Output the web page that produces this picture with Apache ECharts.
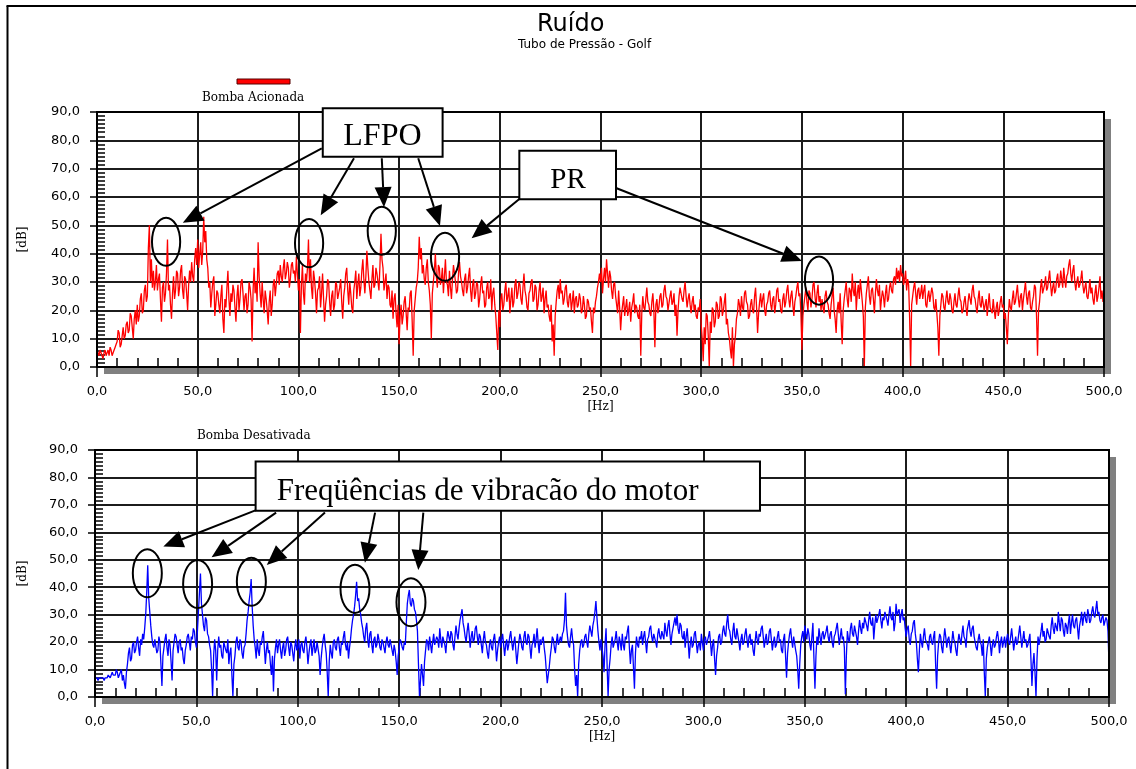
<!DOCTYPE html>
<html>
<head>
<meta charset="utf-8">
<script src="https://cdn.jsdelivr.net/npm/echarts@6/dist/echarts.min.js"></script>
<style>
  html, body { margin: 0; padding: 0; background: #fff; }
  #chart { width: 1136px; height: 769px; }
</style>
</head>
<body>
<div id="chart"></div>
<script>
// Spectrum resolution of both measurements (Hz between samples)
const stepHz = 0.5;

// Noise level with the pump running, 0..500 Hz in 0.5 Hz steps [dB]
const pumpOnDb = [
  6,5,4,6,5,4,3,5,6,4,5,6,4,7,6,4,5,6,7,8,
  9,13,12,7,8,11,14,10,11,15,16,12,13,19,18,14,10,17,20,15,
  22,16,18,24,26,19,20,27,29,23,25,42,50,30,38,28,34,27,30,36,
  27,31,33,24,16,28,30,23,26,33,45,27,29,22,17,26,32,24,27,34,
  33,25,28,34,36,27,24,32,31,26,20,29,34,30,37,32,30,38,42,36,
  45,35,40,44,36,41,53,44,48,38,35,28,30,21,26,30,32,18,22,27,
  26,22,19,25,29,17,12,24,21,28,34,24,18,26,23,29,27,21,16,25,
  29,20,24,30,31,26,20,25,26,19,22,30,28,24,9,27,35,26,30,23,
  44,32,26,21,30,24,19,27,24,20,15,23,27,18,22,29,31,25,29,33,
  34,29,36,32,30,35,38,31,33,37,35,28,31,36,37,33,34,30,39,33,
  27,31,12,29,36,26,22,33,30,35,45,30,38,28,24,34,31,26,19,27,
  28,32,21,26,33,24,16,22,25,31,30,23,18,25,27,20,22,30,29,24,
  24,28,31,23,17,25,28,33,35,27,22,30,26,21,19,27,30,34,24,29,
  33,25,28,34,38,31,26,32,41,35,30,27,24,31,36,28,29,35,33,30,
  27,36,47,38,35,27,30,33,24,29,28,22,21,27,17,24,26,19,14,22,
  8,18,22,15,18,23,25,19,13,21,20,26,27,16,4,20,24,28,30,35,
  46,38,42,33,36,31,29,35,38,30,27,22,10,26,30,34,40,32,28,36,
  35,29,31,35,26,32,38,30,29,25,34,28,24,31,36,33,30,26,27,33,
  37,32,30,27,25,31,33,26,28,32,35,27,23,29,31,24,26,30,29,21,
  24,29,32,26,27,21,22,28,30,24,25,31,20,26,28,22,18,12,6,20,
  14,24,26,20,22,27,30,23,25,28,19,24,28,21,23,29,31,24,26,30,
  29,24,22,28,33,27,25,21,20,26,27,30,31,23,24,29,28,20,22,27,
  30,23,25,28,19,24,27,21,22,18,16,22,9,15,4,18,23,27,29,24,
  31,26,27,22,24,28,29,23,21,25,26,20,23,27,19,24,25,21,22,26,
  24,19,20,25,22,17,18,24,23,20,21,16,12,21,19,23,25,28,30,33,
  30,35,26,31,35,30,38,33,28,34,32,27,24,29,30,25,22,19,27,21,
  13,19,22,25,18,21,24,18,20,23,16,21,23,26,19,22,21,18,17,22,
  4,19,25,21,20,24,28,23,22,19,18,23,26,20,7,22,24,19,21,25,
  26,21,22,27,29,25,24,20,20,25,27,22,23,26,18,22,11,20,25,28,
  28,24,23,27,30,25,21,24,26,22,19,23,25,20,22,18,17,21,20,24,
  15,10,2,14,8,19,18,11,0,16,12,21,20,14,16,23,22,17,18,25,
  24,18,20,23,26,15,17,12,10,6,3,14,0,8,11,17,19,24,22,18,
  25,21,20,26,27,23,22,17,18,22,24,20,19,25,28,21,12,19,23,26,
  21,24,26,20,18,22,23,26,27,22,20,24,25,19,22,27,28,23,24,20,
  19,24,26,21,23,27,29,24,21,25,27,22,18,23,25,28,30,25,26,19,
  6,18,22,25,28,23,20,27,26,21,24,29,30,25,21,26,29,23,25,20,
  24,21,19,25,27,23,22,19,17,22,25,28,20,17,12,20,23,19,26,16,
  8,20,24,27,30,24,21,28,27,23,33,27,25,30,20,26,29,24,31,27,
  23,18,0,21,26,29,32,25,22,27,28,24,19,26,31,27,25,29,20,24,
  27,25,21,26,29,23,24,28,30,27,26,31,32,29,35,31,34,30,36,32,
  33,29,31,34,27,31,29,17,0,22,25,28,30,26,22,27,28,24,26,29,
  24,27,29,22,21,25,27,23,23,28,26,21,20,24,19,14,4,18,22,26,
  25,21,20,24,27,23,22,26,24,20,19,23,26,22,21,25,28,24,23,19,
  20,23,25,21,18,23,26,24,22,27,29,25,24,21,19,24,27,22,21,25,
  25,20,22,24,18,22,26,21,21,19,24,20,17,21,23,18,20,23,25,21,
  22,17,19,14,8,18,24,21,20,24,27,22,23,26,29,24,21,25,26,20,
  24,27,30,25,22,26,27,21,20,23,25,29,28,18,4,20,23,28,31,26,
  26,29,32,27,28,31,34,29,25,28,30,26,27,31,33,28,29,34,31,28,
  35,31,28,32,33,36,38,33,30,34,36,30,27,30,32,28,29,31,34,29,
  26,28,30,25,24,27,31,26,28,24,22,26,29,23,25,28,32,24,27,23,
  28
];

// Noise level with the pump switched off, 0..500 Hz in 0.5 Hz steps [dB]
const pumpOffDb = [
  7,7,7,6,7,7,7,7,7,6,7,7,7,8,8,7,7,9,8,8,
  8,10,9,7,7,9,10,6,8,5,3,9,12,16,18,13,14,19,20,16,
  17,20,22,18,15,21,19,23,21,25,30,38,48,36,31,26,22,19,18,21,
  21,16,17,22,20,12,4,15,18,21,23,18,15,21,19,13,6,17,20,23,
  22,19,16,20,21,17,18,14,12,17,19,22,23,20,17,22,21,25,24,20,
  18,24,31,38,45,34,30,26,24,29,28,23,22,19,17,10,0,15,21,17,
  6,17,22,18,19,15,14,20,20,17,16,21,12,16,18,8,0,12,15,20,
  22,18,17,21,20,16,14,18,19,23,28,31,35,38,43,33,26,21,18,14,
  21,17,15,20,19,22,24,18,12,17,20,16,17,12,8,15,2,14,18,21,
  16,19,21,17,14,18,20,15,17,21,22,18,15,20,19,16,13,18,21,17,
  18,21,14,19,20,17,16,20,22,18,12,16,19,21,15,18,21,16,17,20,
  20,15,8,14,18,21,23,19,16,9,0,13,19,16,14,20,21,18,17,21,
  22,18,15,20,19,22,24,19,17,20,14,18,21,25,28,30,33,37,42,35,
  36,32,30,27,25,22,20,25,27,21,18,23,24,19,16,21,22,18,19,23,
  21,18,17,21,20,18,16,20,22,19,18,21,19,17,15,19,17,13,8,15,
  18,21,20,18,17,20,19,27,34,37,39,34,33,36,35,32,31,28,24,12,
  0,6,12,8,4,13,17,21,20,17,22,19,16,20,23,19,19,22,21,18,
  25,21,18,22,22,19,16,21,24,22,20,24,23,19,17,22,26,23,21,25,
  28,30,32,27,25,22,20,24,27,23,18,22,24,20,21,25,26,22,19,23,
  22,19,16,21,24,20,19,16,14,19,21,18,17,21,23,19,13,17,20,22,
  18,21,23,19,15,19,21,17,19,22,24,20,17,20,22,17,12,16,20,23,
  21,18,17,22,24,20,19,23,22,18,14,19,20,23,18,21,25,20,16,21,
  19,21,22,18,15,10,5,8,11,15,18,22,21,18,16,20,23,19,19,22,
  20,23,24,28,38,26,22,19,18,22,25,21,19,10,4,8,0,12,17,20,
  21,18,19,22,23,20,18,23,26,24,22,26,28,31,35,29,24,20,17,21,
  21,15,9,19,25,12,0,10,14,19,22,18,18,21,24,20,17,22,20,17,
  23,19,17,22,21,24,26,18,12,17,19,11,3,16,22,19,18,22,21,24,
  19,22,24,20,16,21,22,25,26,22,20,23,23,20,18,23,25,22,21,24,
  24,21,27,24,22,26,28,23,19,23,25,27,29,26,30,25,23,27,26,22,
  21,24,18,22,25,20,14,19,22,18,19,23,24,20,16,19,20,17,23,20,
  17,21,22,19,19,22,24,20,15,19,21,14,8,15,18,22,23,19,20,24,
  26,23,22,27,30,25,24,21,19,24,27,22,21,25,25,20,17,21,23,19,
  20,23,25,21,18,22,23,19,21,17,15,20,24,21,19,23,22,25,26,22,
  18,21,23,19,20,24,25,21,17,20,22,18,19,22,24,20,21,17,16,21,
  23,15,7,16,20,23,25,21,18,22,22,17,15,10,3,12,19,22,24,20,
  26,23,21,25,23,19,17,22,27,14,3,15,22,19,25,22,19,23,24,21,
  21,24,26,22,20,23,24,20,18,22,23,25,27,23,19,22,25,21,22,18,
  1,15,24,21,20,25,27,23,22,26,26,22,19,24,28,25,23,27,25,29,
  29,26,24,28,31,27,26,29,21,26,30,27,27,30,32,28,25,29,28,31,
  31,28,26,30,33,29,28,31,24,27,34,30,30,32,27,30,32,28,29,25,
  22,25,26,21,19,23,24,27,28,23,20,14,9,17,23,20,18,22,25,21,
  21,19,17,22,23,20,19,22,24,12,3,15,20,23,22,18,16,21,25,22,
  18,21,22,19,16,20,24,21,20,17,15,20,23,21,19,23,26,22,21,18,
  24,26,28,24,22,25,26,22,20,18,17,21,23,20,19,15,21,9,0,14,
  18,20,22,19,15,19,21,18,19,22,24,21,16,20,22,18,20,22,18,21,
  23,20,19,22,25,21,17,20,22,19,20,23,26,22,18,21,24,20,21,18,
  19,21,23,14,4,12,16,9,0,14,22,19,19,24,27,22,24,20,21,25,
  25,22,21,26,29,25,23,27,27,24,31,27,24,29,28,24,22,27,26,23,
  27,30,23,27,30,26,25,28,29,25,21,26,28,31,26,29,31,28,27,32,
  30,27,28,31,33,30,29,32,35,30,31,28,27,29,30,26,26,29,28,24,
  12
];

// Axis tick values
const dbTicks = [0, 10, 20, 30, 40, 50, 60, 70, 80, 90];
const hzTicks = [0, 50, 100, 150, 200, 250, 300, 350, 400, 450, 500];

// Callouts, in data units (Hz, dB)
const topCallouts = [
  { text: 'LFPO', box: [112.1, 91.3, 171.6, 74.2], textAt: [122.3, 81.2], align: 'left', size: 32, clipTo: 78.2 },
  { text: 'PR', box: [209.7, 76.3, 257.7, 59.2], textAt: [233.9, 65.9], align: 'center', size: 29 }
];
const topArrows = [
  [111.6, 77.2, 42.6, 50.9],
  [127.6, 73.7, 111.1, 53.6],
  [141.4, 73.7, 142.5, 56.4],
  [159.5, 73.7, 170.3, 49.8],
  [210.0, 59.5, 186.0, 45.4],
  [258.0, 63.1, 350.0, 37.4]
];
const topRings = [[34.3, 44.2], [105.3, 43.7], [141.4, 48.1], [172.8, 38.9], [358.5, 30.5]];
const topRingSize = [7.0, 8.5];

const bottomCallouts = [
  { text: 'Freqüências de vibracão do motor', box: [79.2, 85.8, 327.9, 67.9], textAt: [89.6, 74.9], align: 'left', size: 31, clipTo: 69.4 }
];
const bottomArrows = [
  [79.4, 68.1, 33.7, 54.8],
  [89.3, 67.2, 57.5, 50.9],
  [113.4, 67.2, 84.7, 48.1],
  [138.1, 67.2, 133.1, 48.9],
  [161.9, 67.2, 159.4, 46.3]
];
const bottomRings = [[25.8, 45.1], [50.6, 41.2], [77.1, 42.0], [128.2, 39.4], [155.8, 34.5]];
const bottomRingSize = [7.15, 8.75];

const fmtComma = v => v.toFixed(1).replace('.', ',');
const toPairs = arr => arr.map((v, i) => [i * stepHz, v]);

// Draws the plot frame, arrows, ellipses and text boxes of one panel through its axes
function notesRenderer(callouts, arrows, rings, ringSize) {
  return function (params, api) {
    const kids = [];
    const f0 = api.coord([hzTicks[0], dbTicks[dbTicks.length - 1]]);
    const f1 = api.coord([hzTicks[hzTicks.length - 1], dbTicks[0]]);
    kids.push({ type: 'rect', shape: { x: f0[0], y: f0[1], width: f1[0] - f0[0], height: f1[1] - f0[1] },
      style: { fill: 'none', stroke: '#000', lineWidth: 2 } });
    arrows.forEach(a => {
      const p0 = api.coord([a[0], a[1]]);
      const p1 = api.coord([a[2], a[3]]);
      const dx = p1[0] - p0[0], dy = p1[1] - p0[1];
      const len = Math.sqrt(dx * dx + dy * dy);
      const ux = dx / len, uy = dy / len;
      const head = 20, half = 8.5;
      const bx = p1[0] - ux * head, by = p1[1] - uy * head;
      kids.push({ type: 'line', shape: { x1: p0[0], y1: p0[1], x2: bx, y2: by },
        style: { stroke: '#000', lineWidth: 2 } });
      kids.push({ type: 'polygon', shape: { points: [
        [p1[0], p1[1]], [bx - uy * half, by + ux * half], [bx + uy * half, by - ux * half]] },
        style: { fill: '#000' } });
    });
    rings.forEach(r => {
      const c = api.coord(r);
      const s = api.size(ringSize);
      kids.push({ type: 'ellipse', shape: { cx: c[0], cy: c[1], rx: s[0], ry: s[1] },
        style: { fill: 'none', stroke: '#000', lineWidth: 2 } });
    });
    callouts.forEach(c => {
      const tl = api.coord([c.box[0], c.box[1]]);
      const br = api.coord([c.box[2], c.box[3]]);
      kids.push({ type: 'rect', shape: { x: tl[0], y: tl[1], width: br[0] - tl[0], height: br[1] - tl[1] },
        style: { fill: '#fff', stroke: '#000', lineWidth: 2 } });
      const t = api.coord(c.textAt);
      const label = { type: 'text', style: { text: c.text, x: t[0], y: t[1],
        fontFamily: '"Liberation Serif", "Times New Roman", serif', fontSize: c.size,
        fill: '#000', align: c.align, verticalAlign: 'middle' } };
      if (c.clipTo != null) {
        const cb = api.coord([c.box[0], c.clipTo]);
        label.clipPath = { type: 'rect', shape: { x: tl[0] + 1, y: tl[1] + 1, width: br[0] - tl[0] - 2, height: cb[1] - tl[1] } };
      }
      kids.push(label);
    });
    return { type: 'group', children: kids };
  };
}

const sansFont = '"DejaVu Sans", Verdana, sans-serif';
const serifFont = '"DejaVu Serif", serif';

function mainX(gridIndex, nameGap) {
  return {
    type: 'value', gridIndex, position: 'bottom',
    min: hzTicks[0], max: hzTicks[hzTicks.length - 1], interval: hzTicks[1] - hzTicks[0],
    name: '[Hz]', nameLocation: 'middle', nameGap,
    nameTextStyle: { fontFamily: serifFont, fontSize: 12, color: '#000' },
    axisLine: { onZero: false, lineStyle: { color: '#000', width: 2 } },
    axisTick: { show: true, length: 10, lineStyle: { color: '#000', width: 1.5 } },
    axisLabel: { formatter: fmtComma, margin: 18, fontFamily: sansFont, fontSize: 13, color: '#000' },
    splitLine: { show: true, lineStyle: { color: '#1c1c1c', width: 2 } }
  };
}
function minorX(gridIndex) {
  return {
    type: 'value', gridIndex, position: 'bottom',
    min: hzTicks[0], max: hzTicks[hzTicks.length - 1], interval: hzTicks[1] - hzTicks[0],
    axisLine: { show: false, onZero: false },
    axisTick: { show: false, inside: true },
    axisLabel: { show: false },
    splitLine: { show: false },
    minorTick: { show: true, splitNumber: 5, length: 9, lineStyle: { color: '#000', width: 1.5 } }
  };
}
function mainY(gridIndex, nameGap) {
  return {
    type: 'value', gridIndex, position: 'left',
    min: dbTicks[0], max: dbTicks[dbTicks.length - 1], interval: dbTicks[1] - dbTicks[0],
    name: '[dB]', nameLocation: 'middle', nameGap,
    nameTextStyle: { fontFamily: serifFont, fontSize: 12, color: '#000' },
    axisLine: { show: true, onZero: false, lineStyle: { color: '#000', width: 2 } },
    axisTick: { show: true, length: 7, lineStyle: { color: '#000', width: 1.5 } },
    axisLabel: { formatter: fmtComma, margin: 17, fontFamily: sansFont, fontSize: 13, color: '#000' },
    splitLine: { show: true, lineStyle: { color: '#1c1c1c', width: 2 } }
  };
}
function minorY(gridIndex) {
  return {
    type: 'value', gridIndex, position: 'left',
    min: dbTicks[0], max: dbTicks[dbTicks.length - 1], interval: dbTicks[1] - dbTicks[0],
    axisLine: { show: false, onZero: false },
    axisTick: { show: false, inside: true },
    axisLabel: { show: false },
    splitLine: { show: false },
    minorTick: { show: true, splitNumber: 7, length: 8, lineStyle: { color: '#000', width: 1.5 } }
  };
}

// Panel background with a flat grey drop shadow; the frame is stroked by the notes layer
const gridStyle = {
  show: true, backgroundColor: '#fff', borderWidth: 0,
  shadowColor: '#808080', shadowBlur: 0, shadowOffsetX: 7, shadowOffsetY: 7,
  outerBoundsMode: 'none', containLabel: false
};

const chart = echarts.init(document.getElementById('chart'), null, { renderer: 'canvas' });
chart.setOption({
  animation: false,
  backgroundColor: '#fff',
  title: [
    { text: 'Ruído', left: 537, top: 13, padding: 0,
      textStyle: { fontFamily: sansFont, fontSize: 24, fontWeight: 'normal', color: '#000' } },
    { text: 'Tubo de Pressão - Golf', left: 518, top: 39, padding: 0,
      textStyle: { fontFamily: sansFont, fontSize: 12, fontWeight: 'normal', color: '#000' } }
  ],
  grid: [
    Object.assign({ left: 97, top: 112, width: 1007, height: 255 }, gridStyle),
    Object.assign({ left: 95, top: 450, width: 1014, height: 247 }, gridStyle)
  ],
  xAxis: [mainX(0, 34), minorX(0), mainX(1, 34), minorX(1)],
  yAxis: [mainY(0, 68), minorY(0), mainY(1, 66), minorY(1)],
  graphic: [
    { type: 'line', shape: { x1: 7.5, y1: 6, x2: 7.5, y2: 769 }, style: { stroke: '#000', lineWidth: 2 } },
    { type: 'line', shape: { x1: 6.5, y1: 6, x2: 1136, y2: 6 }, style: { stroke: '#000', lineWidth: 2 } },
    { type: 'rect', shape: { x: 237, y: 79, width: 53, height: 5 }, style: { fill: '#ff0000', stroke: '#500', lineWidth: 1 } },
    { type: 'text', x: 202, y: 92, style: { text: 'Bomba Acionada', fontFamily: serifFont, fontSize: 12, fill: '#000' } },
    { type: 'text', x: 197, y: 430, style: { text: 'Bomba Desativada', fontFamily: serifFont, fontSize: 12, fill: '#000' } }
  ],
  series: [
    { name: 'Bomba Acionada', type: 'line', xAxisIndex: 0, yAxisIndex: 0,
      data: toPairs(pumpOnDb), showSymbol: false, symbol: 'none', sampling: null,
      lineStyle: { color: '#ff0000', width: 1.3 }, z: 3 },
    { name: 'Bomba Desativada', type: 'line', xAxisIndex: 2, yAxisIndex: 2,
      data: toPairs(pumpOffDb), showSymbol: false, symbol: 'none', sampling: null,
      lineStyle: { color: '#0000ff', width: 1.3 }, z: 3 },
    { type: 'custom', coordinateSystem: 'cartesian2d', xAxisIndex: 0, yAxisIndex: 0,
      data: [[0, 0]], clip: false, silent: true, z: 10,
      renderItem: notesRenderer(topCallouts, topArrows, topRings, topRingSize) },
    { type: 'custom', coordinateSystem: 'cartesian2d', xAxisIndex: 2, yAxisIndex: 2,
      data: [[0, 0]], clip: false, silent: true, z: 10,
      renderItem: notesRenderer(bottomCallouts, bottomArrows, bottomRings, bottomRingSize) }
  ]
});
</script>
</body>
</html>
